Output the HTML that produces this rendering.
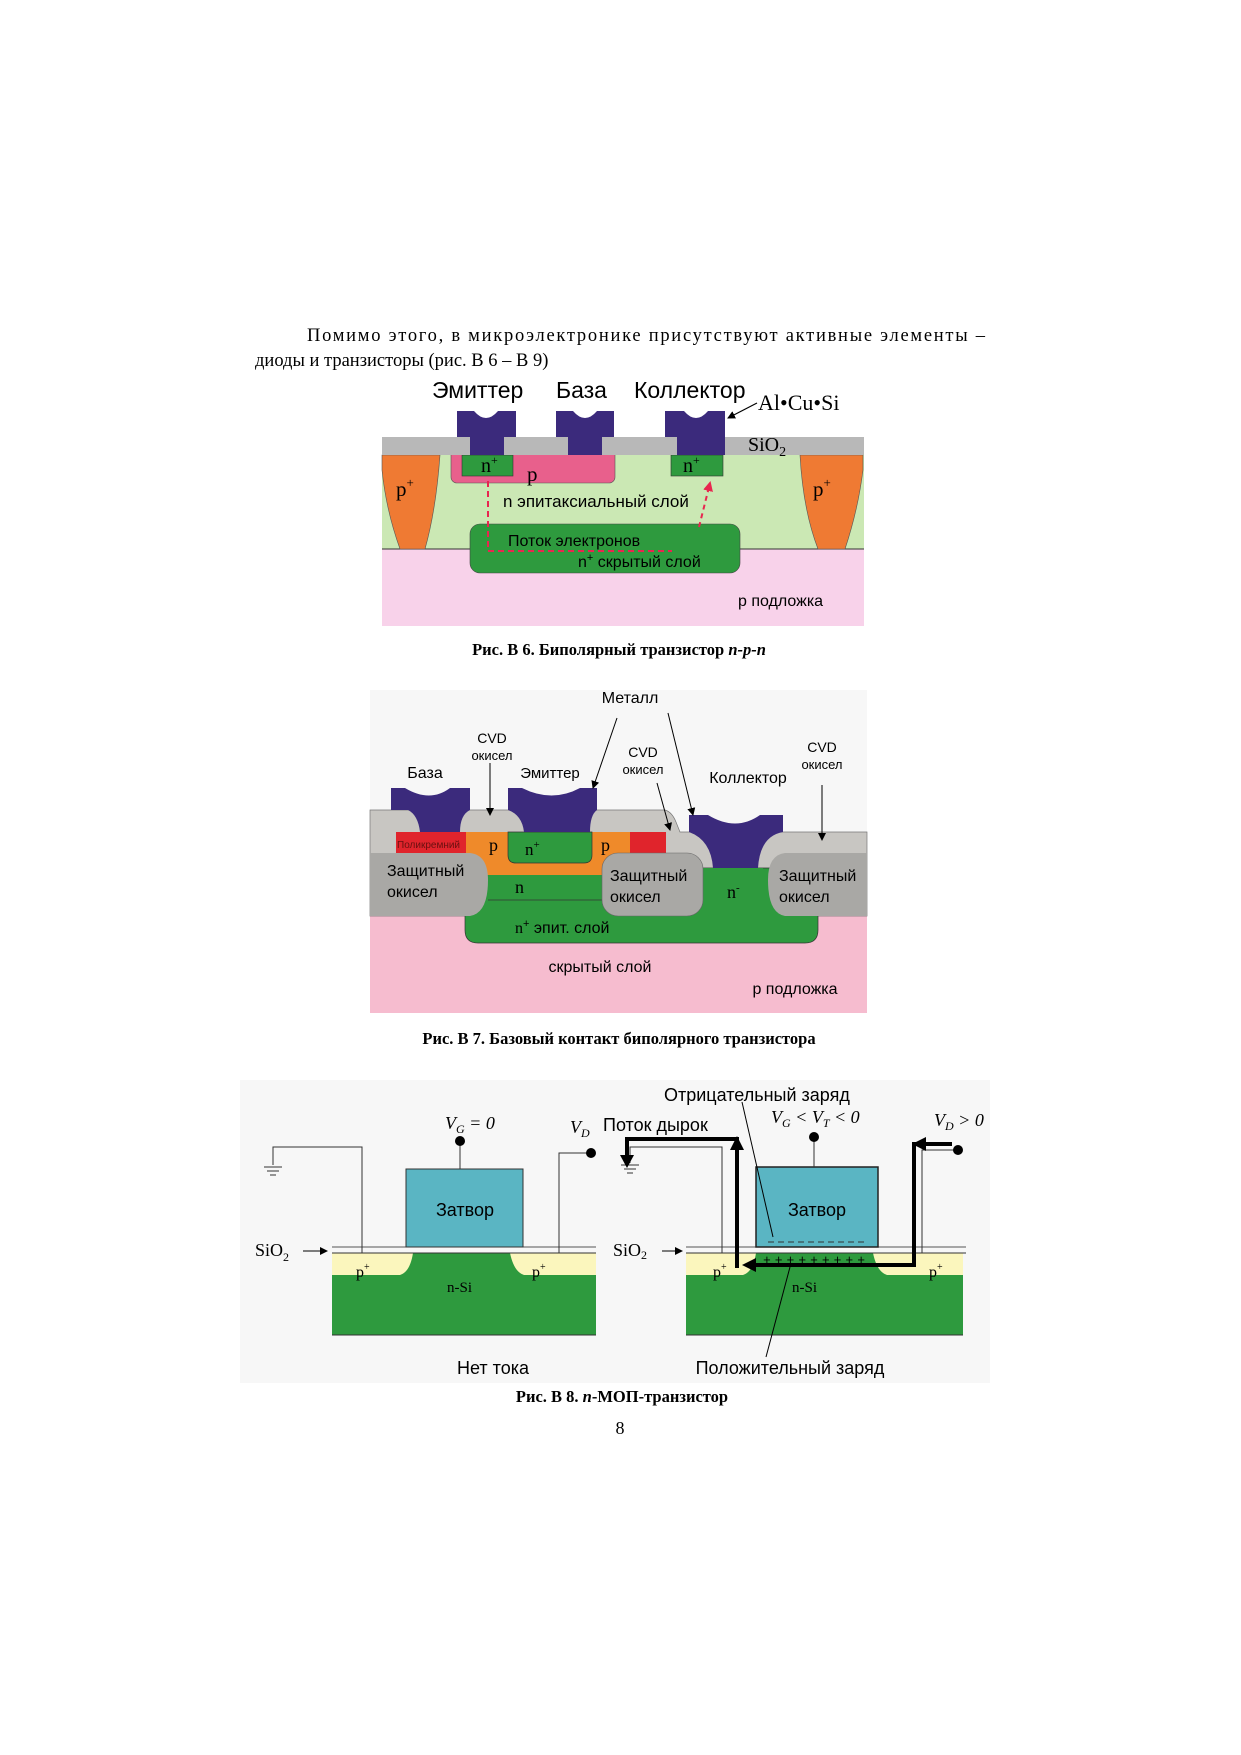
<!DOCTYPE html>
<html><head><meta charset="utf-8"><style>
html,body{margin:0;padding:0;background:#fff}
svg{display:block}
.s{font-family:"Liberation Sans","DejaVu Sans",sans-serif}
.r{font-family:"Liberation Serif","DejaVu Serif",serif}
</style></head><body>
<svg width="1241" height="1755" viewBox="0 0 1241 1755" xmlns="http://www.w3.org/2000/svg">
<defs>
<marker id="ah" markerWidth="8" markerHeight="8" refX="7" refY="4" orient="auto" markerUnits="userSpaceOnUse"><path d="M0,0L8,4L0,8z" fill="#000"/></marker>
<marker id="ahr" markerWidth="10" markerHeight="10" refX="8" refY="5" orient="auto" markerUnits="userSpaceOnUse"><path d="M0,0L10,5L0,10z" fill="#e8264f"/></marker>
</defs>
<!-- paragraph -->
<text class="r" x="307" y="341" font-size="18.5" textLength="678" lengthAdjust="spacing">Помимо этого, в микроэлектронике присутствуют активные элементы –</text>
<text class="r" x="255" y="366" font-size="18.5">диоды и транзисторы (рис. В 6 – В 9)</text>

<!-- FIG 6 -->
<rect x="382" y="549" width="482" height="77" fill="#f8d2ea"/>
<rect x="382" y="455" width="482" height="94" fill="#cbe8b4"/>
<line x1="382" y1="549" x2="864" y2="549" stroke="#333" stroke-width="1"/>
<path d="M382,455 L440,455 Q436,510 425,549 L400,549 Q386,510 382,470z" fill="#ef7a33" stroke="#555" stroke-width="0.6"/>
<path d="M800,455 L863,455 L863,470 Q858,510 845,549 L818,549 Q803,510 800,455z" fill="#ef7a33" stroke="#555" stroke-width="0.6"/>
<rect x="451" y="448" width="164" height="35" rx="6" fill="#e8608c" stroke="#555" stroke-width="0.6"/>
<rect x="462" y="455" width="51" height="21" fill="#2e9a3e" stroke="#333" stroke-width="0.6"/>
<rect x="671" y="455" width="52" height="21" fill="#2e9a3e" stroke="#333" stroke-width="0.6"/>
<rect x="470" y="524" width="270" height="49" rx="10" fill="#2e9a3e" stroke="#444" stroke-width="0.6"/>
<rect x="382" y="437" width="482" height="18" fill="#b8b8b8"/>
<path d="M457,411 L474,411 Q486,425 498,411 L516,411 L516,437 L504,437 L504,455 L470,455 L470,437 L457,437z" fill="#3b2a7c"/>
<path d="M556,411 L573,411 Q585,425 597,411 L614,411 L614,437 L602,437 L602,455 L568,455 L568,437 L556,437z" fill="#3b2a7c"/>
<path d="M665,411 L684,411 Q696,425 708,411 L725,411 L725,455 L677,455 L677,437 L665,437z" fill="#3b2a7c"/>
<text class="s" x="432" y="398" font-size="23">Эмиттер</text>
<text class="s" x="556" y="398" font-size="23">База</text>
<text class="s" x="634" y="398" font-size="23">Коллектор</text>
<text class="r" x="758" y="410" font-size="22">Al•Cu•Si</text>
<line x1="757" y1="403" x2="728" y2="418" stroke="#000" stroke-width="1.2" marker-end="url(#ah)"/>
<text class="r" x="748" y="451" font-size="20">SiO<tspan font-size="14" dy="5">2</tspan></text>
<text class="r" x="396" y="496" font-size="21">p<tspan font-size="13" dy="-9">+</tspan></text>
<text class="r" x="813" y="496" font-size="21">p<tspan font-size="13" dy="-9">+</tspan></text>
<text class="r" x="481" y="472" font-size="20">n<tspan font-size="12" dy="-8">+</tspan></text>
<text class="r" x="527" y="481" font-size="21">p</text>
<text class="r" x="683" y="472" font-size="20">n<tspan font-size="12" dy="-8">+</tspan></text>
<text class="s" x="503" y="507" font-size="17">n эпитаксиальный слой</text>
<text class="s" x="508" y="546" font-size="16">Поток электронов</text>
<text class="s" x="578" y="567" font-size="16">n<tspan font-size="11" dy="-6">+</tspan><tspan dy="6"> скрытый слой</tspan></text>
<text class="s" x="738" y="606" font-size="16">р подложка</text>
<path d="M488,481 L488,551 L672,551" fill="none" stroke="#e8264f" stroke-width="2" stroke-dasharray="6,4"/>
<line x1="699" y1="527" x2="710" y2="483" stroke="#e8264f" stroke-width="2" stroke-dasharray="5,4" marker-end="url(#ahr)"/>
<text class="r" x="619" y="655" font-size="16.5" font-weight="bold" text-anchor="middle">Рис. В 6. Биполярный транзистор <tspan font-style="italic">n-p-n</tspan></text>

<!-- FIG 7 -->
<rect x="370" y="690" width="497" height="323" fill="#f7f7f7"/>
<rect x="370" y="916" width="497" height="97" fill="#f6bccf"/>
<path d="M370,810 L665,810 Q672,812 676,822 L680,832 L867,832 L867,916 L370,916z" fill="#c8c6c2" stroke="#777" stroke-width="0.7"/>
<path d="M465,868 L818,868 L818,930 Q818,943 805,943 L478,943 Q465,943 465,930z" fill="#2e9a3e" stroke="#333" stroke-width="0.7"/>
<rect x="466" y="832" width="164" height="43" fill="#ef8a2a"/>
<rect x="466" y="875" width="140" height="30" fill="#2e9a3e"/>
<line x1="488" y1="900" x2="605" y2="900" stroke="#333" stroke-width="0.7"/>
<rect x="603" y="868" width="160" height="48" fill="#2e9a3e"/>
<rect x="396" y="832" width="70" height="21" fill="#e0242c"/>
<rect x="630" y="832" width="36" height="21" fill="#e0242c"/>
<path d="M508,832 L592,832 L592,855 Q592,863 584,863 L516,863 Q508,863 508,855z" fill="#2e9a3e" stroke="#333" stroke-width="0.7"/>
<path d="M370,853 L470,853 Q488,855 488,880 Q488,913 470,916 L370,916z" fill="#a9a8a5"/>
<rect x="602" y="853" width="101" height="63" rx="16" fill="#a9a8a5" stroke="#666" stroke-width="0.6"/>
<path d="M867,853 L785,853 Q768,855 768,880 Q768,913 785,916 L867,916z" fill="#a9a8a5"/>
<path d="M391,788 L405,788 Q430,803 450,788 L470,788 L470,810 Q460,815 460,832 L420,832 Q418,815 408,810 L391,810z" fill="#3b2a7c"/>
<path d="M508,788 L522,788 Q552,803 580,788 L597,788 L597,810 Q590,815 590,832 L524,832 Q522,815 508,810z" fill="#3b2a7c"/>
<path d="M689,815 L708,815 Q736,832 760,815 L783,815 L783,832 Q760,836 758,868 L713,868 Q711,840 689,832z" fill="#3b2a7c"/>
<text class="s" x="630" y="703" font-size="16" text-anchor="middle">Металл</text>
<text class="s" x="492" y="743" font-size="14" text-anchor="middle">CVD</text>
<text class="s" x="492" y="760" font-size="13" text-anchor="middle">окисел</text>
<text class="s" x="425" y="778" font-size="16" text-anchor="middle">База</text>
<text class="s" x="550" y="778" font-size="15" text-anchor="middle">Эмиттер</text>
<text class="s" x="643" y="757" font-size="14" text-anchor="middle">CVD</text>
<text class="s" x="643" y="774" font-size="13" text-anchor="middle">окисел</text>
<text class="s" x="748" y="783" font-size="16" text-anchor="middle">Коллектор</text>
<text class="s" x="822" y="752" font-size="14" text-anchor="middle">CVD</text>
<text class="s" x="822" y="769" font-size="13" text-anchor="middle">окисел</text>
<line x1="617" y1="718" x2="593" y2="788" stroke="#000" stroke-width="1" marker-end="url(#ah)"/>
<line x1="668" y1="713" x2="693" y2="815" stroke="#000" stroke-width="1" marker-end="url(#ah)"/>
<line x1="490" y1="763" x2="490" y2="815" stroke="#000" stroke-width="1" marker-end="url(#ah)"/>
<line x1="657" y1="783" x2="670" y2="830" stroke="#000" stroke-width="1" marker-end="url(#ah)"/>
<line x1="822" y1="785" x2="822" y2="840" stroke="#000" stroke-width="1" marker-end="url(#ah)"/>
<text class="s" x="397" y="848" font-size="10" fill="#6a1010">Поликремний</text>
<text class="r" x="489" y="851" font-size="18">p</text>
<text class="r" x="525" y="855" font-size="17">n<tspan font-size="11" dy="-7">+</tspan></text>
<text class="r" x="601" y="851" font-size="18">p</text>
<text class="s" x="387" y="876" font-size="16">Защитный</text>
<text class="s" x="387" y="897" font-size="16">окисел</text>
<text class="s" x="610" y="881" font-size="16">Защитный</text>
<text class="s" x="610" y="902" font-size="16">окисел</text>
<text class="s" x="779" y="881" font-size="16">Защитный</text>
<text class="s" x="779" y="902" font-size="16">окисел</text>
<text class="r" x="515" y="893" font-size="18">n</text>
<text class="r" x="727" y="898" font-size="18">n<tspan font-size="11" dy="-7">-</tspan></text>
<text class="s" x="515" y="933" font-size="16"><tspan class="r">n</tspan><tspan font-size="11" dy="-6">+</tspan><tspan dy="6"> эпит. слой</tspan></text>
<text class="s" x="600" y="972" font-size="16" text-anchor="middle">скрытый слой</text>
<text class="s" x="795" y="994" font-size="16" text-anchor="middle">р подложка</text>
<text class="r" x="619" y="1044" font-size="16.5" font-weight="bold" text-anchor="middle">Рис. В 7. Базовый контакт биполярного транзистора</text>

<!-- FIG 8 -->
<rect x="240" y="1080" width="750" height="303" fill="#f7f7f7"/>
<!-- left -->
<rect x="332" y="1253" width="264" height="82" fill="#2e9a3e"/>
<path d="M332,1253 L413,1253 Q410,1272 400,1275 L332,1275z" fill="#fbf6bd"/>
<path d="M596,1253 L510,1253 Q514,1272 524,1275 L596,1275z" fill="#fbf6bd"/>
<line x1="332" y1="1335" x2="596" y2="1335" stroke="#333" stroke-width="1"/>
<line x1="332" y1="1247" x2="596" y2="1247" stroke="#555" stroke-width="1"/>
<line x1="332" y1="1253" x2="596" y2="1253" stroke="#333" stroke-width="1"/>
<rect x="406" y="1169" width="117" height="78" fill="#5ab5c3" stroke="#333" stroke-width="1"/>
<line x1="460" y1="1141" x2="460" y2="1169" stroke="#333" stroke-width="1"/>
<circle cx="460" cy="1141" r="5" fill="#000"/>
<path d="M273,1165 L273,1147 L362,1147 L362,1253" fill="none" stroke="#333" stroke-width="1"/>
<path d="M264,1167 h18 M267,1171 h12 M270,1175 h6" stroke="#333" stroke-width="1"/>
<path d="M559,1253 L559,1153 L591,1153" fill="none" stroke="#333" stroke-width="1"/>
<circle cx="591" cy="1153" r="5" fill="#000"/>
<text class="r" x="445" y="1129" font-size="18" font-style="italic">V<tspan font-size="12" dy="4">G</tspan><tspan dy="-4"> = 0</tspan></text>
<text class="r" x="570" y="1133" font-size="18" font-style="italic">V<tspan font-size="12" dy="4">D</tspan></text>
<text class="s" x="465" y="1216" font-size="18" text-anchor="middle">Затвор</text>
<text class="r" x="255" y="1256" font-size="18">SiO<tspan font-size="12" dy="5">2</tspan></text>
<line x1="303" y1="1251" x2="327" y2="1251" stroke="#000" stroke-width="1" marker-end="url(#ah)"/>
<text class="r" x="356" y="1277" font-size="16">p<tspan font-size="10" dy="-7">+</tspan></text>
<text class="r" x="532" y="1277" font-size="16">p<tspan font-size="10" dy="-7">+</tspan></text>
<text class="r" x="447" y="1292" font-size="15">n-Si</text>
<text class="s" x="493" y="1374" font-size="18" text-anchor="middle">Нет тока</text>
<!-- right -->
<rect x="686" y="1253" width="277" height="82" fill="#2e9a3e"/>
<path d="M686,1253 L756,1253 Q753,1272 743,1275 L686,1275z" fill="#fbf6bd"/>
<path d="M963,1253 L873,1253 Q877,1272 887,1275 L963,1275z" fill="#fbf6bd"/>
<line x1="686" y1="1335" x2="963" y2="1335" stroke="#333" stroke-width="1"/>
<line x1="686" y1="1247" x2="966" y2="1247" stroke="#555" stroke-width="1"/>
<line x1="686" y1="1253" x2="966" y2="1253" stroke="#333" stroke-width="1"/>
<rect x="756" y="1167" width="122" height="80" fill="#5ab5c3" stroke="#222" stroke-width="1.5"/>
<line x1="814" y1="1137" x2="814" y2="1167" stroke="#333" stroke-width="1"/>
<circle cx="814" cy="1137" r="5" fill="#000"/>
<line x1="768" y1="1242" x2="868" y2="1242" stroke="#333" stroke-width="1" stroke-dasharray="6,4"/>
<text x="763" y="1264" font-size="13" font-family="Liberation Mono,monospace" fill="#000" textLength="102">+++++++++</text>
<path d="M630,1163 L630,1147 L722,1147 L722,1253" fill="none" stroke="#333" stroke-width="1"/>
<path d="M621,1165 h18 M624,1169 h12 M627,1173 h6" stroke="#333" stroke-width="1"/>
<path d="M922,1253 L922,1150 L958,1150" fill="none" stroke="#333" stroke-width="1"/>
<circle cx="958" cy="1150" r="5" fill="#000"/>
<path d="M952,1144 L914,1144 L914,1265 L750,1265" fill="none" stroke="#000" stroke-width="4"/>
<path d="M756,1258 L742,1265 L756,1272z" fill="#000"/>
<path d="M926,1137 L912,1144 L926,1151z" fill="#000"/>
<path d="M737,1268 L737,1139 L627,1139 L627,1155" fill="none" stroke="#000" stroke-width="4"/>
<path d="M730,1150 L737,1136 L744,1150z" fill="#000"/>
<path d="M620,1155 L627,1168 L634,1155z" fill="#000"/>
<text class="s" x="664" y="1101" font-size="18">Отрицательный заряд</text>
<text class="r" x="771" y="1123" font-size="18" font-style="italic">V<tspan font-size="12" dy="4">G</tspan><tspan dy="-4"> &lt; V</tspan><tspan font-size="12" dy="4">T</tspan><tspan dy="-4"> &lt; 0</tspan></text>
<text class="r" x="934" y="1126" font-size="18" font-style="italic">V<tspan font-size="12" dy="4">D</tspan><tspan dy="-4"> &gt; 0</tspan></text>
<text class="s" x="603" y="1131" font-size="18">Поток дырок</text>
<line x1="742" y1="1102" x2="773" y2="1237" stroke="#000" stroke-width="1"/>
<line x1="766" y1="1357" x2="790" y2="1267" stroke="#000" stroke-width="1"/>
<text class="s" x="817" y="1216" font-size="18" text-anchor="middle">Затвор</text>
<text class="r" x="613" y="1256" font-size="18">SiO<tspan font-size="12" dy="3">2</tspan></text>
<line x1="662" y1="1251" x2="682" y2="1251" stroke="#000" stroke-width="1" marker-end="url(#ah)"/>
<text class="r" x="713" y="1277" font-size="16">p<tspan font-size="10" dy="-7">+</tspan></text>
<text class="r" x="929" y="1277" font-size="16">p<tspan font-size="10" dy="-7">+</tspan></text>
<text class="r" x="792" y="1292" font-size="15">n-Si</text>
<text class="s" x="790" y="1374" font-size="18" text-anchor="middle">Положительный заряд</text>
<text class="r" x="622" y="1402" font-size="16.5" font-weight="bold" text-anchor="middle">Рис. В 8. <tspan font-style="italic">n</tspan>-МОП-транзистор</text>
<text class="r" x="620" y="1434" font-size="18" text-anchor="middle">8</text>
</svg>
</body></html>
